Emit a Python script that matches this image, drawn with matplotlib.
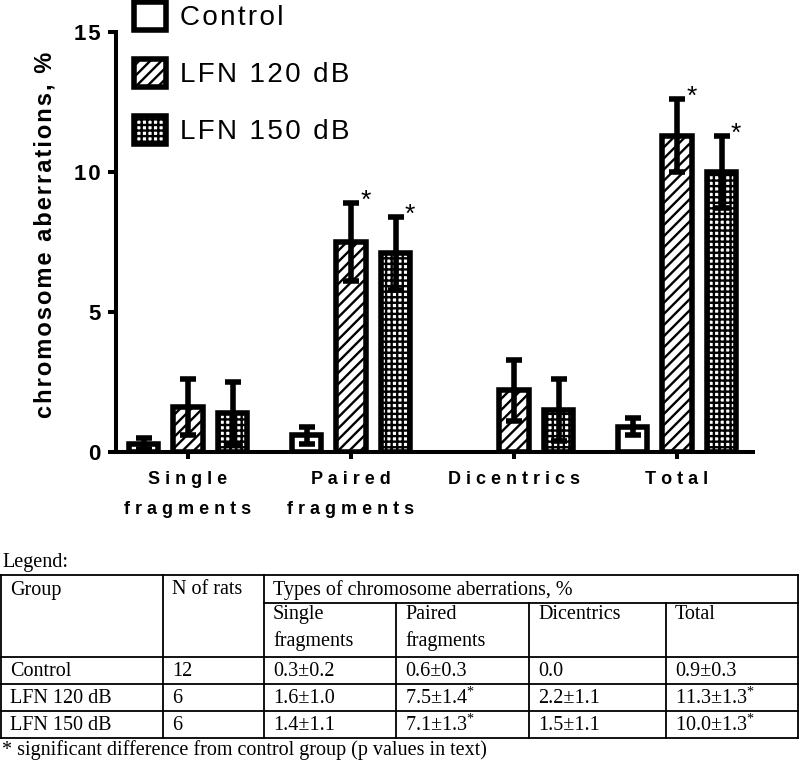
import matplotlib
matplotlib.use('Agg')
import matplotlib.pyplot as plt
from matplotlib.lines import Line2D
import numpy as np

categories = ['Single\nfragments', 'Paired\nfragments', 'Dicentrics', 'Total']
groups = ['Control', 'LFN 120 dB', 'LFN 150 dB']
n_rats = [12, 6, 6]

control_mean = [0.3, 0.6, 0.0, 0.9]
control_err = [0.2, 0.3, 0.0, 0.3]
lfn120_mean = [1.6, 7.5, 2.2, 11.3]
lfn120_err = [1.0, 1.4, 1.1, 1.3]
lfn150_mean = [1.4, 7.1, 1.5, 10.0]
lfn150_err = [1.1, 1.3, 1.1, 1.3]
control_sig = [False, False, False, False]
lfn120_sig = [False, True, False, True]
lfn150_sig = [False, True, False, True]

yticks = [0, 5, 10, 15]
ylabel = 'chromosome aberrations, %'
table_title = 'Types of chromosome aberrations, %'
footnote = '* significant difference from control group (p values in text)'

HAIR = '\u200a'


def spaced(s, sep):
    return '\n'.join(sep.join(line) for line in s.split('\n'))


plt.rcParams['font.family'] = ['Liberation Sans', 'DejaVu Sans']
plt.rcParams['hatch.linewidth'] = 1.7
plt.rcParams['mathtext.fontset'] = 'custom'
plt.rcParams['mathtext.rm'] = 'Liberation Serif'
plt.rcParams['mathtext.it'] = 'Liberation Serif:italic'

W, H = 800, 762
fig = plt.figure(figsize=(8, 7.62), dpi=100)
ax = fig.add_axes([116 / W, 1 - 452 / H, (753 - 116) / W, (452 - 32) / H])

x = np.arange(len(categories))
offsets = [-0.273, 0.0, 0.273]
width = 0.18
hatches = ['', '///', '+++']
series = [(control_mean, control_err, control_sig),
          (lfn120_mean, lfn120_err, lfn120_sig),
          (lfn150_mean, lfn150_err, lfn150_sig)]

handles = []
for (m, e, sig), off, h in zip(series, offsets, hatches):
    m = np.array(m)
    e = np.array(e)
    b = ax.bar(x + off, m, width, color='white', edgecolor='black',
               linewidth=4, hatch=h, zorder=2)
    for patch, val in zip(b, m):
        if val == 0:
            patch.set_visible(False)
    handles.append(b)
    yv = np.where(e > 0, m, np.nan)
    ax.errorbar(x + off, yv, yerr=e, fmt='none', ecolor='black',
                elinewidth=4, capsize=6, capthick=4, zorder=3)
    for j in range(len(m)):
        if sig[j]:
            ax.annotate('*', (x[j] + off, m[j] + e[j]), xytext=(10.5, -3.5),
                        textcoords='offset points', ha='center',
                        va='baseline', fontsize=19)

ax.set_xlim(-0.442, 3.466)
ax.set_ylim(0, 15)
for s in ['top', 'right']:
    ax.spines[s].set_visible(False)
for s in ['left', 'bottom']:
    ax.spines[s].set_linewidth(2.9)

ax.set_yticks(yticks)
ax.set_yticklabels([spaced(str(t), HAIR) for t in yticks],
                   fontsize=16, fontweight='bold')
ax.set_xticks(x)
ax.set_xticklabels([spaced(c, ' ') for c in categories], fontsize=13,
                   fontweight='bold', linespacing=1.95)
ax.tick_params(axis='y', length=6, width=2.9, pad=5)
ax.tick_params(axis='x', length=5, width=2.9, pad=9)

fig.text(45 / W, 1 - 235 / H, spaced(ylabel, HAIR), rotation=90,
         ha='center', va='center', fontsize=17, fontweight='bold')

ax.legend(handles=handles, labels=[spaced(g, HAIR) for g in groups],
          loc='upper left', bbox_to_anchor=(134 / W, 1 - 2 / H),
          bbox_transform=fig.transFigure, frameon=False, fontsize=20,
          handlelength=1.15, handleheight=1.15, handletextpad=0.5,
          labelspacing=1.0, borderpad=0, borderaxespad=0)

# ---- table below the chart ----
serif = ['Liberation Serif', 'DejaVu Serif']
tfs = 14.5


def fx(px):
    return px / W


def fy(py):
    return 1 - py / H


def hline(x0, x1, y):
    fig.add_artist(Line2D([fx(x0), fx(x1)], [fy(y), fy(y)],
                          transform=fig.transFigure, color='black', lw=1.3))


def vline(xp, y0, y1):
    fig.add_artist(Line2D([fx(xp), fx(xp)], [fy(y0), fy(y1)],
                          transform=fig.transFigure, color='black', lw=1.3))


def ttext(xp, yp, s, va='center', **kw):
    fig.text(fx(xp), fy(yp), s, ha='left', va=va, fontsize=tfs,
             family=serif, **kw)


col_x = [1, 163, 264, 396, 529, 666, 798]
row_y = [575, 603, 657, 684, 711, 738]

hline(col_x[0], col_x[-1], row_y[0])
hline(col_x[2], col_x[-1], row_y[1])
for yy in row_y[2:]:
    hline(col_x[0], col_x[-1], yy)
for xx in col_x[:3] + col_x[-1:]:
    vline(xx, row_y[0], row_y[-1])
for xx in col_x[3:6]:
    vline(xx, row_y[1], row_y[-1])

ttext(2, 562, 'Legend:')
ttext(col_x[0] + 9, 590, 'Group')
ttext(col_x[1] + 9, 590, 'N of rats')
ttext(col_x[2] + 9, 590, table_title)
for k, c in enumerate(categories):
    ttext(col_x[2 + k] + 9, 605, c, va='top', linespacing=1.5)

for r, (g, n, (m, e, sig)) in enumerate(zip(groups, n_rats, series)):
    yc = (row_y[2 + r] + row_y[3 + r]) / 2 + 1
    ttext(col_x[0] + 9, yc, g)
    ttext(col_x[1] + 9, yc, str(n))
    for k in range(len(categories)):
        if e[k] == 0:
            s = f'{m[k]:.1f}'
        else:
            s = f'{m[k]:.1f}\u00b1{e[k]:.1f}'
        if sig[k]:
            s += r'$^{*}$'
        ttext(col_x[2 + k] + 9, yc, s)

ttext(2, 750, footnote)

fig.savefig('out.png', dpi=100)
